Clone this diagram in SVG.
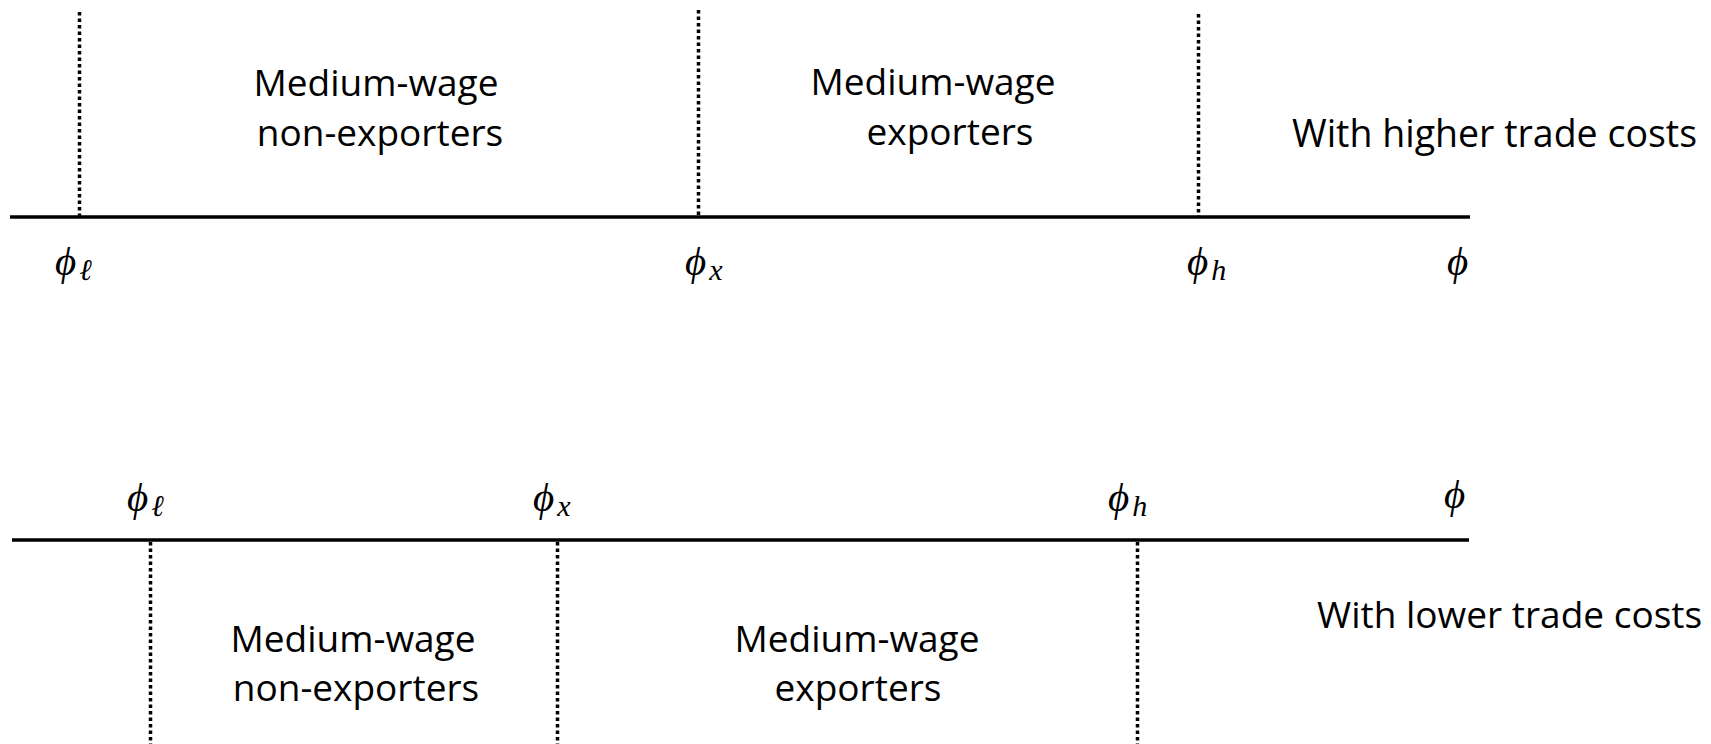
<svg xmlns="http://www.w3.org/2000/svg" width="1711" height="744" viewBox="0 0 1711 744">
<style>
.axis{stroke:#000;stroke-width:3.5;fill:none}
.dot{stroke:#000;stroke-width:3.5;stroke-dasharray:3.5 3;fill:none}
.lbl{font-family:"Open Sans","Liberation Sans",sans-serif;font-size:37px;fill:#000}
.c{text-anchor:middle}
.m{font-family:"Liberation Serif","DejaVu Serif",serif;font-style:italic;font-size:41px;fill:#000}
.s{font-size:30px}
</style>
<rect width="1711" height="744" fill="#fff"/>
<g id="connectors">
<line class="axis" x1="10" y1="217" x2="1470" y2="217"/>
<line class="axis" x1="12" y1="540" x2="1469" y2="540"/>
<line class="dot" x1="79.5" y1="12" x2="79.5" y2="216"/>
<line class="dot" x1="698.5" y1="10" x2="698.5" y2="216"/>
<line class="dot" x1="1198.5" y1="14" x2="1198.5" y2="216"/>
<line class="dot" x1="150.5" y1="542" x2="150.5" y2="744"/>
<line class="dot" x1="557.5" y1="542" x2="557.5" y2="744"/>
<line class="dot" x1="1137.5" y1="542" x2="1137.5" y2="744"/>
</g>
<g id="top-phi-l"><text class="m" x="55" y="275">ϕ<tspan class="s" dx="3" dy="5">ℓ</tspan></text></g>
<g id="top-phi-x"><text class="m" x="685" y="275">ϕ<tspan class="s" dx="3" dy="5">x</tspan></text></g>
<g id="top-phi-h"><text class="m" x="1187" y="275">ϕ<tspan class="s" dx="3" dy="5">h</tspan></text></g>
<g id="top-phi"><text class="m" x="1447" y="275">ϕ</text></g>
<g id="bot-phi-l"><text class="m" x="127" y="511">ϕ<tspan class="s" dx="3" dy="5">ℓ</tspan></text></g>
<g id="bot-phi-x"><text class="m" x="533" y="511">ϕ<tspan class="s" dx="3" dy="5">x</tspan></text></g>
<g id="bot-phi-h"><text class="m" x="1108" y="511">ϕ<tspan class="s" dx="3" dy="5">h</tspan></text></g>
<g id="bot-phi"><text class="m" x="1444" y="508">ϕ</text></g>
<g id="top-nonexp">
<text class="lbl c" x="376" y="96">Medium-wage</text>
<text class="lbl c" x="380" y="146">non-exporters</text>
</g>
<g id="top-exp">
<text class="lbl c" x="933" y="95">Medium-wage</text>
<text class="lbl c" x="950" y="145">exporters</text>
</g>
<g id="top-title"><text class="lbl" x="1292" y="147" style="font-size:37.5px">With higher trade costs</text></g>
<g id="bot-nonexp">
<text class="lbl c" x="353" y="652">Medium-wage</text>
<text class="lbl c" x="356" y="701">non-exporters</text>
</g>
<g id="bot-exp">
<text class="lbl c" x="857" y="652">Medium-wage</text>
<text class="lbl c" x="858" y="701">exporters</text>
</g>
<g id="bot-title"><text class="lbl" x="1317" y="628">With lower trade costs</text></g>
</svg>
